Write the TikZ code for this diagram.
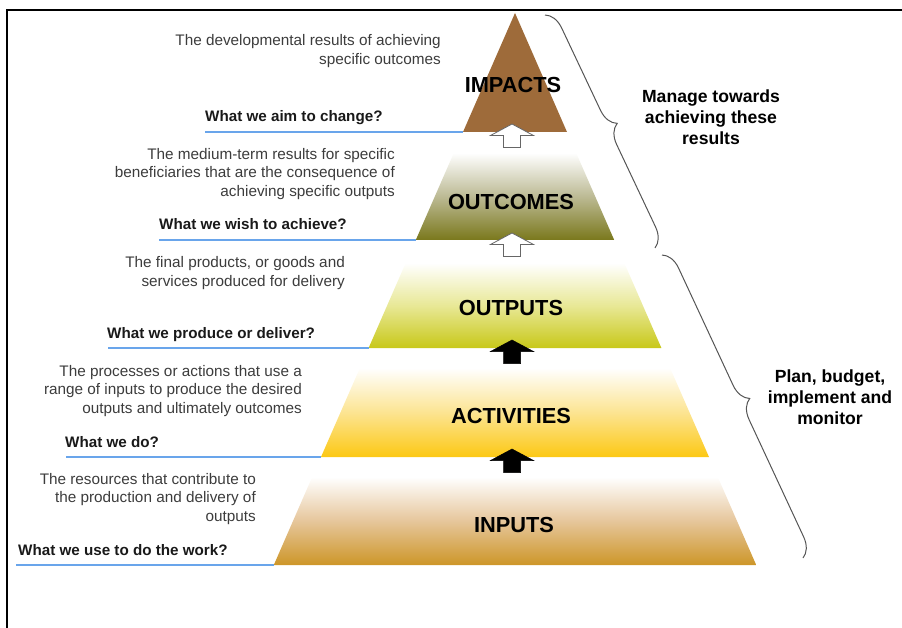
\documentclass[tikz,border=0pt]{standalone}
\usepackage{fontspec}
\setmainfont{Liberation Sans}
\usetikzlibrary{decorations.pathreplacing}
\definecolor{impactc}{RGB}{158,107,58}
\definecolor{outcomebot}{RGB}{122,120,28}
\definecolor{outcomemid}{RGB}{188,186,148}
\definecolor{outputbot}{RGB}{200,200,25}
\definecolor{outputmid}{RGB}{232,232,150}
\definecolor{activbot}{RGB}{252,200,20}
\definecolor{activmid}{RGB}{252,228,145}
\definecolor{inputbot}{RGB}{205,150,40}
\definecolor{inputmid}{RGB}{230,198,155}
\definecolor{desccol}{RGB}{60,60,60}
\definecolor{lineblue}{RGB}{105,165,235}
\definecolor{bracecol}{RGB}{85,85,85}
\newcommand\pyrarrow[3]{\draw[#1] (#2,#3) -- ++(21.5,11.5) -- ++(-13,0) -- ++(0,12) -- ++(-17,0) -- ++(0,-12) -- ++(-13,0) -- cycle;}
\begin{document}
\begin{tikzpicture}[x=1pt,y=-1pt,
  desc/.style={font=\fontsize{15.3}{18.7}\selectfont, text=desccol, align=right, inner sep=0pt, anchor=east},
  qlab/.style={font=\bfseries\fontsize{15.2}{18}\selectfont, text=black!90, inner sep=0pt, anchor=base west},
  layerlab/.style={font=\bfseries\fontsize{21.8}{24}\selectfont, inner sep=0pt},
  sidelab/.style={font=\bfseries\fontsize{17.6}{21}\selectfont, align=center, inner sep=0pt},
  blueline/.style={draw=lineblue, line width=1.3pt},
  bracestyle/.style={draw=bracecol, line width=1pt, decorate, decoration={brace, amplitude=19pt}},
  whitearrow/.style={fill=white, draw=black!60, line width=0.8pt},
  blackarrow/.style={fill=black, draw=black, line width=0.5pt}]
\useasboundingbox (0,0) rectangle (902,628);
% frame
\draw[line width=1.8pt] (7,628) -- (7,10) -- (902,10);

% pyramid layers
\fill[impactc] (463,132) -- (515,13) -- (567,132) -- cycle;
\shade[top color=white, bottom color=outcomebot, middle color=outcomemid]
  (415.8,240) -- (453.8,153) -- (576.2,153) -- (614.2,240) -- cycle;
\shade[top color=white, bottom color=outputbot, middle color=outputmid]
  (368.6,348) -- (405.7,263) -- (624.3,263) -- (661.4,348) -- cycle;
\shade[top color=white, bottom color=activbot, middle color=activmid]
  (321,457) -- (359.9,368) -- (670.1,368) -- (709,457) -- cycle;
\shade[top color=white, bottom color=inputbot, middle color=inputmid]
  (273.8,565) -- (312.2,477) -- (717.8,477) -- (756.2,565) -- cycle;

\coordinate (impL) at (463,132);
\coordinate (outcL) at (415.8,240);
\coordinate (outpL) at (368.6,348);
\coordinate (actL) at (321,457);
\coordinate (inpL) at (273.8,565);

% arrows
\pyrarrow{whitearrow}{512}{124}
\pyrarrow{whitearrow}{512}{233}
\pyrarrow{blackarrow}{512}{340}
\pyrarrow{blackarrow}{512}{449}

% layer labels
\node[layerlab] (impacts) at (513,85) {IMPACTS};
\node[layerlab] (outcomes) at (511,202) {OUTCOMES};
\node[layerlab] (outputs) at (511,308) {OUTPUTS};
\node[layerlab] (activities) at (511,416) {ACTIVITIES};
\node[layerlab] (inputs) at (514,525) {INPUTS};

% blue lines and questions
\coordinate (q1s) at (205,132);
\coordinate (q2s) at (159,240);
\coordinate (q3s) at (108,348);
\coordinate (q4s) at (66,457);
\coordinate (q5s) at (16,565);
\draw[blueline] (q1s) -- (impL);
\draw[blueline] (q2s) -- (outcL);
\draw[blueline] (q3s) -- (outpL);
\draw[blueline] (q4s) -- (actL);
\draw[blueline] (q5s) -- (inpL);
\node[qlab] (q1) at (205,122) {What we aim to change?};
\node[qlab] (q2) at (159,230) {What we wish to achieve?};
\node[qlab] (q3) at (107,338) {What we produce or deliver?};
\node[qlab] (q4) at (65,447) {What we do?};
\node[qlab] (q5) at (18,555) {What we use to do the work?};

% descriptions
\node[desc] (d1) at (441,51) {The developmental results of achieving\\specific outcomes};
\node[desc] (d2) at (395,174) {The medium-term results for specific\\beneficiaries that are the consequence of\\achieving specific outputs};
\node[desc] (d3) at (345,273) {The final products, or goods and\\services produced for delivery};
\node[desc] (d4) at (302,391) {The processes or actions that use a\\range of inputs to produce the desired\\outputs and ultimately outcomes};
\node[desc] (d5) at (256,499) {The resources that contribute to\\the production and delivery of\\outputs};

% braces
\coordinate (b1s) at (545,15);
\coordinate (b1e) at (655,248);
\coordinate (b2s) at (662,255);
\coordinate (b2e) at (803,558);
\draw[bracestyle] (b1s) -- (b1e);
\draw[bracestyle] (b2s) -- (b2e);

% side labels
\node[sidelab] (manage) at (711,117) {Manage towards\\achieving these\\results};
\node[sidelab] (plan) at (830,397) {Plan, budget,\\implement and\\monitor};
\end{tikzpicture}
\end{document}
